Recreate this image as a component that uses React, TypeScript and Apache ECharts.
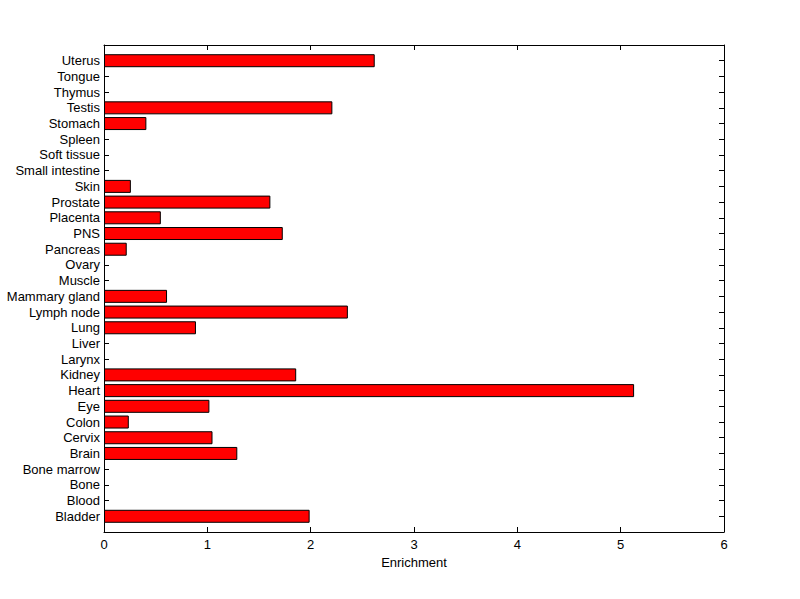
import React, { useEffect, useRef } from "react";
import * as echarts from "echarts";

const categories = [
  "Bladder", "Blood", "Bone", "Bone marrow", "Brain", "Cervix", "Colon", "Eye", "Heart", "Kidney",
  "Larynx", "Liver", "Lung", "Lymph node", "Mammary gland", "Muscle", "Ovary", "Pancreas", "PNS", "Placenta",
  "Prostate", "Skin", "Small intestine", "Soft tissue", "Spleen", "Stomach", "Testis", "Thymus", "Tongue", "Uterus",
];
const enrichment = [
  1.99, 0, 0, 0, 1.29, 1.05, 0.24, 1.02, 5.13, 1.86,
  0, 0, 0.89, 2.36, 0.61, 0, 0, 0.22, 1.73, 0.55,
  1.61, 0.26, 0, 0, 0, 0.41, 2.21, 0, 0, 2.62,
];
const xTicks = [0, 1, 2, 3, 4, 5, 6];

export default function App() {
  const ref = useRef<HTMLDivElement>(null);
  useEffect(() => {
    if (!ref.current) return;
    const chart = echarts.init(ref.current, null, { renderer: "svg" });
    const cats = ["", ...categories, ""];
    const vals: any[] = ["-", ...enrichment.map((v) => (v > 0 ? v : "-")), "-"];
    const font = "Liberation Sans, Arial, sans-serif";
    const fs = 13;
    const axisLine = { show: true, onZero: false, lineStyle: { color: "#000", width: 1 } };
    const tick = { show: true, inside: true, length: 5, lineStyle: { color: "#000", width: 1 } };
    chart.setOption({
      animation: false,
      backgroundColor: "#fff",
      grid: { left: 104, right: 76, top: 45, bottom: 67, show: false },
      xAxis: [
        {
          type: "value",
          min: xTicks[0],
          max: xTicks[xTicks.length - 1],
          interval: 1,
          position: "bottom",
          name: "Enrichment",
          nameLocation: "middle",
          nameGap: 24,
          nameTextStyle: { color: "#000", fontSize: fs, fontFamily: font },
          axisLine,
          axisTick: tick,
          axisLabel: { color: "#000", fontSize: fs, fontFamily: font, margin: 6 },
          splitLine: { show: false },
        },
        {
          type: "value",
          min: xTicks[0],
          max: xTicks[xTicks.length - 1],
          interval: 1,
          position: "top",
          axisLine,
          axisTick: tick,
          axisLabel: { show: false },
          splitLine: { show: false },
        },
      ],
      yAxis: [
        {
          type: "category",
          data: cats,
          boundaryGap: false,
          position: "left",
          axisLine,
          axisTick: { ...tick, interval: 0 },
          axisLabel: { color: "#000", fontSize: fs, fontFamily: font, margin: 4, interval: 0 },
          splitLine: { show: false },
        },
        {
          type: "category",
          data: cats,
          boundaryGap: false,
          position: "right",
          axisLine,
          axisTick: { ...tick, interval: 0 },
          axisLabel: { show: false },
          splitLine: { show: false },
        },
      ],
      series: [
        {
          type: "bar",
          xAxisIndex: 0,
          yAxisIndex: 0,
          data: vals,
          barWidth: 13,
          itemStyle: { color: "#ff0000", borderColor: "#000", borderWidth: 1 },
        },
      ],
    });
    return () => chart.dispose();
  }, []);
  return (
    <div
      ref={ref}
      style={{ position: "fixed", left: 0, top: 0, width: 800, height: 599, background: "#fff" }}
    />
  );
}
